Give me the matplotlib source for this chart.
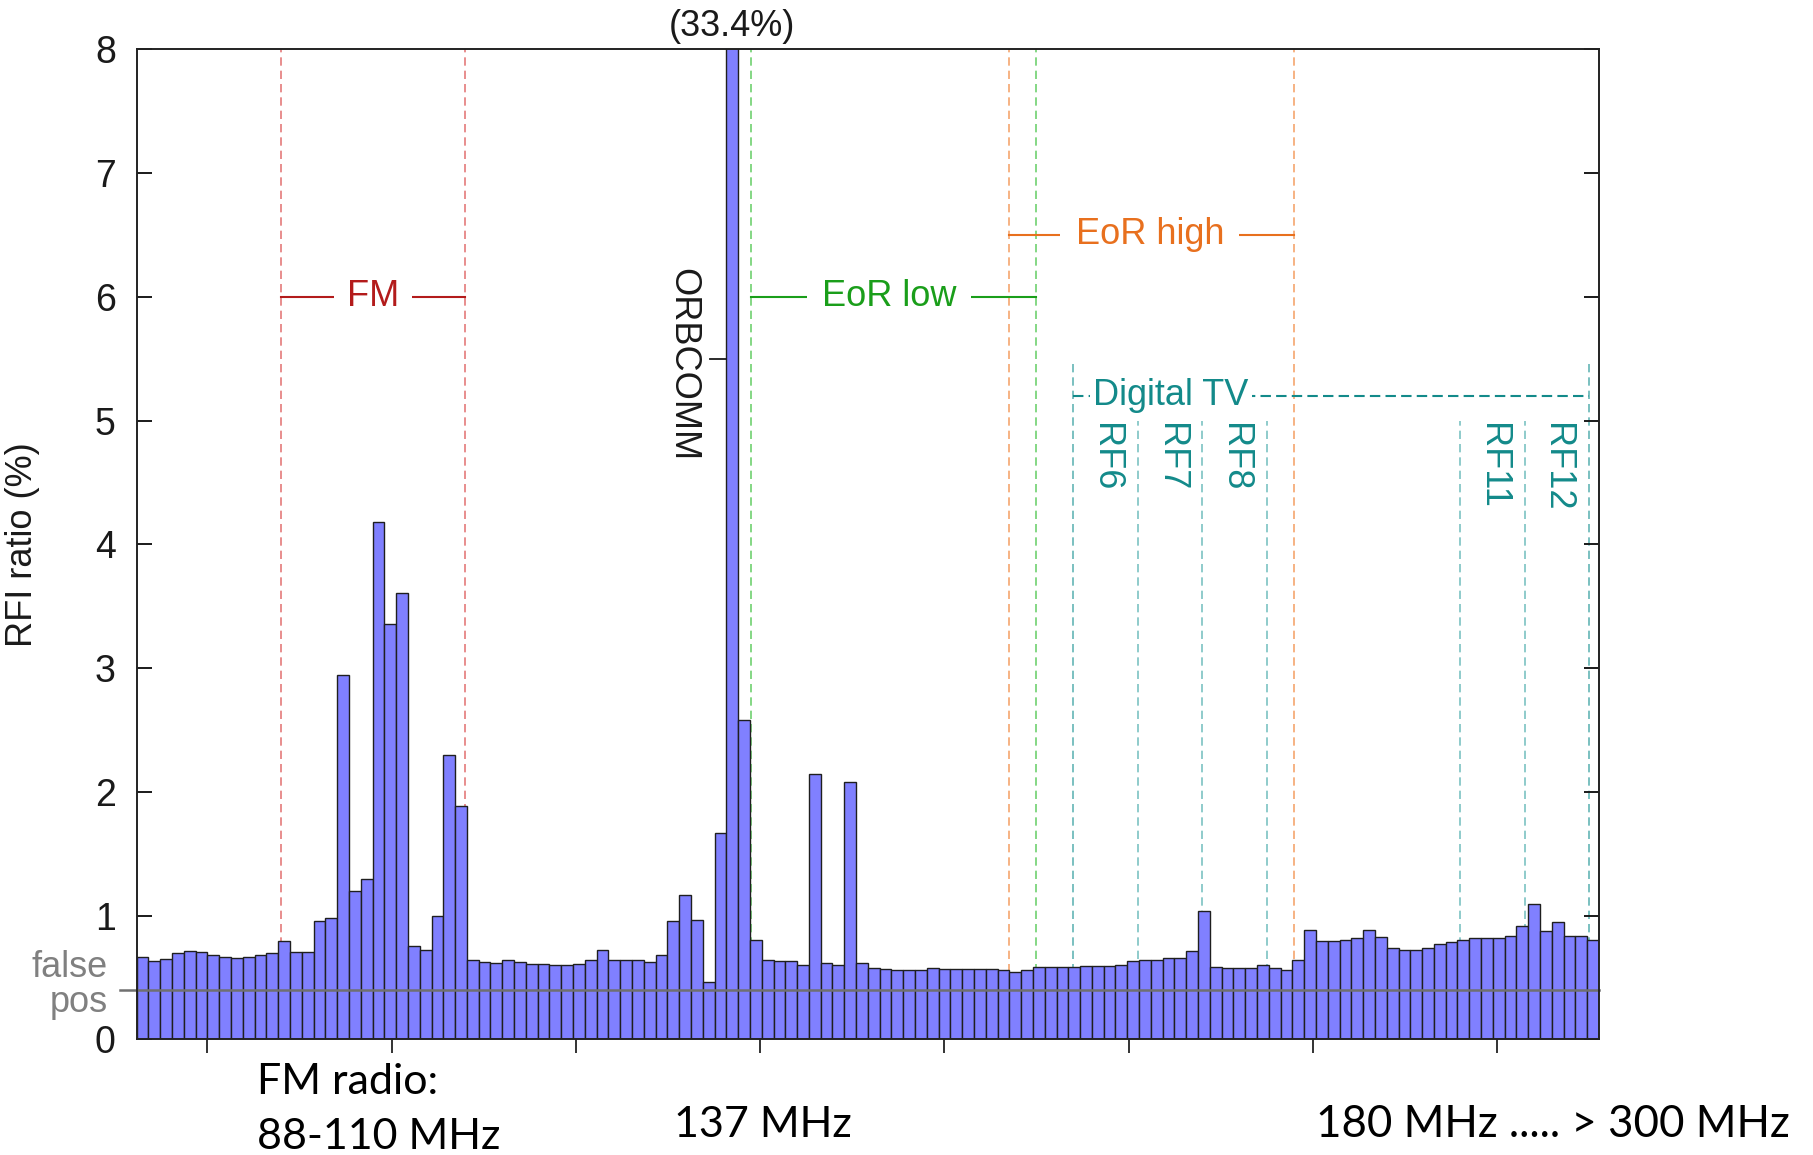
import numpy as np
import matplotlib
matplotlib.use("Agg")
import matplotlib.pyplot as plt
import matplotlib.transforms as mtransforms

W_PX, H_PX, DPI = 1813, 1155, 100

# ── частотная сетка: 124 бина по 1.28 МГц ───────────────────────────────────
F_START = 72.34     # МГц, левый край первого бина
BIN_WIDTH = 1.28    # МГц

# доля RFI по бинам, %
RFI_RATIO = [
    0.665, 0.63, 0.65, 0.695, 0.71, 0.708, 0.678, 0.662, 0.657, 0.662,
    0.68, 0.697, 0.797, 0.708, 0.708, 0.954, 0.98, 2.94, 1.197, 1.297,
    4.18, 3.36, 3.61, 0.75, 0.724, 0.995, 2.3, 1.886, 0.643, 0.627,
    0.616, 0.638, 0.624, 0.611, 0.611, 0.597, 0.597, 0.611, 0.643, 0.722,
    0.643, 0.643, 0.643, 0.622, 0.678, 0.954, 1.17, 0.968, 0.465, 1.67,
    33.4, 2.58, 0.8, 0.643, 0.63, 0.63, 0.597, 2.14, 0.614, 0.6,
    2.08, 0.616, 0.576, 0.568, 0.562, 0.56, 0.56, 0.576, 0.565, 0.565,
    0.57, 0.57, 0.568, 0.562, 0.546, 0.557, 0.584, 0.581, 0.581, 0.581,
    0.595, 0.589, 0.589, 0.597, 0.63, 0.643, 0.643, 0.657, 0.657, 0.71,
    1.035, 0.581, 0.576, 0.576, 0.573, 0.597, 0.573, 0.56, 0.64, 0.886,
    0.797, 0.795, 0.803, 0.822, 0.886, 0.83, 0.738, 0.722, 0.722, 0.74,
    0.77, 0.79, 0.805, 0.822, 0.822, 0.816, 0.838, 0.914, 1.095, 0.873,
    0.951, 0.838, 0.832, 0.805,
]
FALSE_POS = 0.4
ORBCOMM_BIN = 50

FREQ_TICKS = [80, 100, 120, 140, 160, 180, 200, 220]
Y_TICKS = [0, 1, 2, 3, 4, 5, 6, 7, 8]
Y_MAX = 8

# ── диапазоны ──────────────────────────────────────────────────────────────
FM_BAND = (88, 108)
EOR_LOW = (139, 170)
EOR_HIGH = (167, 198)
DTV_EDGES_OUTER = [174, 230]
DTV_EDGES_INNER = [181, 188, 195, 216, 223]
DTV_CHANNELS = ["RF6", "RF7", "RF8", "RF11", "RF12"]
DTV_CHANNEL_BANDS = [(174, 181), (181, 188), (188, 195), (216, 223), (223, 230)]

BAR_FACE = "#8080ff"
BAR_EDGE = "#1f1f1f"
FONT = "Liberation Sans"
FS = 26


def band_label(ax, lo, hi, y, text, color, x_text=None, dashed=False, pad=9):
    """Горизонтальная линия через диапазон и подпись по центру."""
    ls = (0, (5, 2.5)) if dashed else "-"
    ax.plot([lo, hi], [y, y], color=color, lw=1.5, ls=ls, zorder=2)
    if x_text is None:
        x_text = (lo + hi) / 2
    ax.text(x_text, y, text, color=color, fontsize=FS, family=FONT,
            ha="center", va="center", zorder=4,
            bbox=dict(facecolor="white", edgecolor="none", pad=pad))


def vdash(ax, x, color, top=Y_MAX):
    ax.plot([x, x], [0, top], color=color, lw=1.2, ls=(0, (5, 3)), zorder=1)


def main():
    plt.rcParams["font.family"] = FONT
    fig = plt.figure(figsize=(W_PX / DPI, H_PX / DPI), dpi=DPI)
    ax = fig.add_axes([136.7 / W_PX, 1 - 1039.3 / H_PX,
                       (1599 - 136.7) / W_PX, (1039.3 - 49.3) / H_PX])

    n = len(RFI_RATIO)
    centers = F_START + BIN_WIDTH * (np.arange(n) + 0.5)
    ax.bar(centers, RFI_RATIO, width=BIN_WIDTH, color=BAR_FACE,
           edgecolor=BAR_EDGE, linewidth=1.0, zorder=2)

    # уровень ложных срабатываний
    ax.axhline(FALSE_POS, xmin=-0.0114, xmax=1, color="#707070", lw=1.8,
               clip_on=False, zorder=3)
    blend = mtransforms.blended_transform_factory(ax.transAxes, ax.transData)
    ax.text(-0.0196, 0.506, "false", transform=blend, ha="right",
            va="baseline", color="#808080", fontsize=FS)
    ax.text(-0.0196, 0.223, "pos", transform=blend, ha="right",
            va="baseline", color="#808080", fontsize=FS)

    # FM
    for f in FM_BAND:
        vdash(ax, f, "#e47a7a")
    band_label(ax, *FM_BAND, 6.0, "FM", "#b31b1b")

    # EoR
    for f in EOR_LOW:
        vdash(ax, f, "#6fd16f")
    for f in EOR_HIGH:
        vdash(ax, f, "#f5a66e")
    band_label(ax, *EOR_LOW, 6.0, "EoR low", "#1a9e1a", x_text=154.0, pad=11)
    band_label(ax, *EOR_HIGH, 6.5, "EoR high", "#e8701e", x_text=182.3, pad=11)

    # цифровое ТВ
    for f in DTV_EDGES_OUTER:
        vdash(ax, f, "#63b5b5", top=5.5)
    for f in DTV_EDGES_INNER:
        vdash(ax, f, "#7cc2c2", top=5.0)
    band_label(ax, *DTV_EDGES_OUTER, 5.2, "Digital TV", "#138a8a",
               x_text=184.6, dashed=True, pad=2)
    for name, (lo, hi) in zip(DTV_CHANNELS, DTV_CHANNEL_BANDS):
        ax.text((lo + hi) / 2, 4.98, name, color="#138a8a", fontsize=FS,
                rotation=-90, ha="center", va="top", rotation_mode="default")

    # ORBCOMM
    orb_x = centers[ORBCOMM_BIN]
    ax.text(131.6, 5.45, "ORBCOMM", color="#1a1a1a", fontsize=FS,
            rotation=-90, ha="center", va="center")
    ax.plot([134.6, orb_x - BIN_WIDTH / 2], [5.5, 5.5], color="#1a1a1a",
            lw=1.3, zorder=3)
    ax.text(orb_x, Y_MAX + 0.04, f"({RFI_RATIO[ORBCOMM_BIN]:.1f}%)",
            color="#1a1a1a", fontsize=FS, ha="center", va="bottom",
            clip_on=False)

    # оси
    ax.set_xlim(F_START, F_START + BIN_WIDTH * n)
    ax.set_ylim(0, Y_MAX)
    ax.set_xticks(FREQ_TICKS)
    ax.set_xticklabels([])
    ax.set_yticks(Y_TICKS)
    ax.set_yticklabels([str(v) for v in Y_TICKS])
    ax.tick_params(axis="y", direction="in", length=11, width=1.4,
                   right=True, labelsize=FS + 1, pad=15, colors="#1a1a1a")
    ax.tick_params(axis="x", direction="out", length=10, width=1.4,
                   top=False, colors="#333333")
    for sp in ax.spines.values():
        sp.set_linewidth(1.4)
        sp.set_color("#222222")
        sp.set_zorder(5)
    ax.set_ylabel("RFI ratio (%)", fontsize=FS, color="#1a1a1a")
    ax.yaxis.set_label_coords(-0.066, 0.5)

    # подписи диапазонов под осью
    def ftext(x, y, s, size=31):
        fig.text(x / W_PX, 1 - y / H_PX, s, fontsize=size, family="Lato",
                 color="black", ha="left", va="baseline")

    ftext(256.7, 1094, "FM radio:")
    ftext(256.7, 1149, "88-110 MHz")
    ftext(674, 1137, "137 MHz")
    ftext(1316, 1137, "180 MHz ..... > 300 MHz", size=31.6)

    fig.savefig("out.png", dpi=DPI)
    plt.close(fig)


if __name__ == "__main__":
    main()
